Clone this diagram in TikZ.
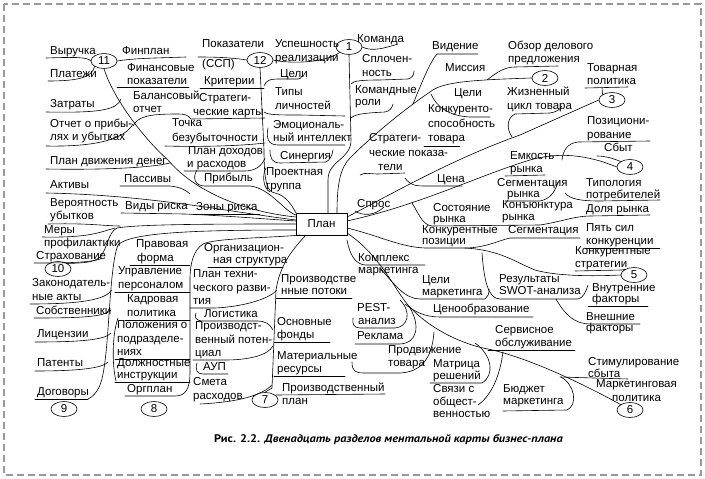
\documentclass[tikz,border=0pt]{standalone}
\usepackage{fontspec}
\setmainfont{Liberation Sans}
\newfontfamily\capfont{PT Sans}
\usetikzlibrary{shapes.geometric}
\newcommand\mylbl[4]{\node[lbl] (#1) at (#2,#3) {#4};}
\begin{document}
\begin{tikzpicture}[x=1pt,y=-1pt,
  lbl/.style={anchor=base west,inner sep=0pt,font=\fontsize{11.5}{13}\selectfont},
  ln/.style={line width=0.6pt,line cap=round},
  num/.style={ellipse,draw,line width=0.6pt,minimum width=26pt,minimum height=15pt,inner sep=0pt,font=\fontsize{11.5}{13}\selectfont},
  planbox/.style={draw,line width=0.8pt,minimum width=51pt,minimum height=22pt,inner sep=0pt,font=\fontsize{11.5}{13}\selectfont}]
\useasboundingbox (0,0) rectangle (705,479);
\draw[black!40,line width=1.2pt,dash pattern=on 7pt off 4pt] (4,4) rectangle (701,475);
\node[planbox] (p) at (321.5,224) {План};
% ellipses
\node[num] (e1) at (349,47) {1};
\node[num] (e2) at (545,78) {2};
\node[num] (e3) at (612,100) {3};
\node[num] (e4) at (630,167) {4};
\node[num] (e5) at (634,275) {5};
\node[num] (e6) at (630,410) {6};
\node[num] (e7) at (265,400) {7};
\node[num] (e8) at (154,409) {8};
\node[num] (e9) at (64,409) {9};
\node[num] (e10) at (58,269) {10};
\node[num] (e11) at (104,61) {11};
\node[num] (e12) at (260,60) {12};
% cluster 11
\mylbl{a11}{50}{54}{Выручка}
\mylbl{b11}{122}{54}{Финплан}
\mylbl{c11}{50}{77}{Платежи}
\mylbl{d11a}{127}{71}{Финансовые}
\mylbl{d11b}{127}{84}{показатели}
\mylbl{f11a}{133}{99}{Балансовый}
\mylbl{f11b}{133}{112}{отчет}
\mylbl{g11}{50}{107}{Затраты}
\mylbl{h11a}{50}{127}{Отчет о прибы-}
\mylbl{h11b}{50}{140}{лях и убытках}
\mylbl{i11a}{172}{126}{Точка}
\mylbl{i11b}{172}{141}{безубыточности}
\mylbl{j11}{50}{164}{План движения денег}
\mylbl{k11a}{188}{154}{План доходов}
\mylbl{k11b}{187}{167}{и расходов}
\mylbl{l11}{204}{181}{Прибыль}
\mylbl{m11}{124}{182}{Пассивы}
\mylbl{n11}{50}{188}{Активы}
% cluster 10
\mylbl{a10a}{50}{206}{Вероятность}
\mylbl{a10b}{50}{219}{убытков}
\mylbl{b10}{125}{209}{Виды риска}
\mylbl{c10}{196}{210}{Зоны риска}
\mylbl{d10a}{44}{233}{Меры}
\mylbl{d10b}{44}{246}{профилактики}
\mylbl{f10}{36}{259}{Страхование}
\mylbl{g10a}{32}{286}{Законодатель-}
\mylbl{g10b}{32}{300}{ные акты}
% cluster 9
\mylbl{a9}{36}{314}{Собственники}
\mylbl{b9}{37}{337}{Лицензии}
\mylbl{c9}{37}{366}{Патенты}
\mylbl{d9}{37}{395}{Договоры}
% cluster 8
\mylbl{a8a}{136}{247}{Правовая}
\mylbl{a8b}{137}{261}{форма}
\mylbl{b8a}{118}{274}{Управление}
\mylbl{b8b}{118}{288}{персоналом}
\mylbl{c8a}{127}{302}{Кадровая}
\mylbl{c8b}{127}{316}{политика}
\mylbl{d8a}{117}{328}{Положения о}
\mylbl{d8b}{117}{342}{подразделе-}
\mylbl{d8c}{117}{355}{ниях}
\mylbl{f8a}{117}{366}{Должностные}
\mylbl{f8b}{117}{378}{инструкции}
\mylbl{g8}{127}{392}{Оргплан}
\mylbl{h8a}{204}{251}{Организацион-}
\mylbl{h8b}{213}{263}{ная структура}
\mylbl{i8a}{193}{277}{План техни-}
\mylbl{i8b}{193}{291}{ческого разви-}
\mylbl{i8c}{193}{304}{тия}
% cluster 7
\mylbl{a7a}{281}{282}{Производстве}
\mylbl{a7b}{281}{294}{нные потоки}
\mylbl{b7}{204}{317}{Логистика}
\mylbl{c7a}{195}{329}{Производст-}
\mylbl{c7b}{195}{343}{венный потен-}
\mylbl{c7c}{195}{356}{циал}
\mylbl{d7}{203}{370}{АУП}
\mylbl{f7a}{193}{385}{Смета}
\mylbl{f7b}{193}{399}{расходов}
\mylbl{g7a}{277}{325}{Основные}
\mylbl{g7b}{277}{338}{фонды}
\mylbl{h7a}{277}{359}{Материальные}
\mylbl{h7b}{277}{372}{ресурсы}
\mylbl{i7a}{282}{391}{Производственный}
\mylbl{i7b}{282}{404}{план}
% cluster 12
\mylbl{a12}{202}{47}{Показатели}
\mylbl{b12}{202}{67}{(ССП)}
\mylbl{c12}{204}{84}{Критерии}
\mylbl{d12a}{199}{101}{Стратеги-}
\mylbl{d12b}{193}{115}{ческие карты}
\mylbl{f12a}{275}{47}{Успешность}
\mylbl{f12b}{275}{61}{реализации}
\mylbl{g12}{280}{77}{Цели}
\mylbl{h12a}{275}{95}{Типы}
\mylbl{h12b}{275}{109}{личностей}
\mylbl{i12a}{273}{128}{Эмоциональ-}
\mylbl{i12b}{273}{141}{ный интеллект}
\mylbl{j12}{280}{159}{Синергия}
\mylbl{k12a}{266}{175}{Проектная}
\mylbl{k12b}{266}{189}{группа}
% cluster 1
\mylbl{a1}{357}{42}{Команда}
\mylbl{b1a}{362}{62}{Сплочен-}
\mylbl{b1b}{362}{76}{ность}
\mylbl{c1a}{355}{93}{Командные}
\mylbl{c1b}{355}{105}{роли}
% cluster 2
\mylbl{a2}{432}{49}{Видение}
\mylbl{b2}{445}{71}{Миссия}
\mylbl{c2}{454}{96}{Цели}
\mylbl{d2a}{428}{112}{Конкуренто-}
\mylbl{d2b}{428}{127}{способность}
\mylbl{d2c}{428}{141}{товара}
\mylbl{f2a}{369}{141}{Стратеги-}
\mylbl{f2b}{369}{156}{ческие показа-}
\mylbl{f2c}{378}{170}{тели}
\mylbl{g2a}{508}{49}{Обзор делового}
\mylbl{g2b}{508}{62}{предложения}
\mylbl{h2a}{507}{95}{Жизненный}
\mylbl{h2b}{507}{109}{цикл товара}
% cluster 3
\mylbl{a3a}{587}{71}{Товарная}
\mylbl{a3b}{587}{84}{политика}
\mylbl{b3a}{587}{124}{Позициони-}
\mylbl{b3b}{587}{138}{рование}
\mylbl{c3a}{510}{159}{Емкость}
\mylbl{c3b}{510}{172}{рынка}
% cluster 4
\mylbl{a4}{604}{151}{Сбыт}
\mylbl{b4a}{497}{186}{Сегментация}
\mylbl{b4b}{507}{197}{рынка}
\mylbl{c4a}{502}{208}{Конъюнктура}
\mylbl{c4b}{502}{220}{рынка}
\mylbl{d4a}{586}{186}{Типология}
\mylbl{d4b}{586}{198}{потребителей}
\mylbl{f4}{586}{212}{Доля рынка}
\mylbl{g4}{437}{182}{Цена}
\mylbl{h4a}{433}{211}{Состояние}
\mylbl{h4b}{433}{222}{рынка}
\mylbl{i4}{357}{207}{Спрос}
% cluster 5
\mylbl{a5}{508}{233}{Сегментация}
\mylbl{b5a}{586}{231}{Пять сил}
\mylbl{b5b}{586}{244}{конкуренции}
\mylbl{c5a}{575}{254}{Конкурентные}
\mylbl{c5b}{575}{267}{стратегии}
\mylbl{d5a}{499}{282}{Результаты}
\mylbl{d5b}{499}{294}{SWOT-анализа}
\mylbl{f5a}{422}{233}{Конкурентные}
\mylbl{f5b}{422}{244}{позиции}
\mylbl{g5a}{592}{291}{Внутренние}
\mylbl{g5b}{592}{302}{факторы}
% cluster 6
\mylbl{a6a}{358}{261}{Комплекс}
\mylbl{a6b}{358}{273}{маркетинга}
\mylbl{b6a}{422}{283}{Цели}
\mylbl{b6b}{422}{295}{маркетинга}
\mylbl{c6a}{357}{311}{PEST-}
\mylbl{c6b}{358}{324}{анализ}
\mylbl{d6}{433}{312}{Ценообразование}
\mylbl{f6}{357}{339}{Реклама}
\mylbl{g6a}{388}{353}{Продвижение}
\mylbl{g6b}{388}{366}{товара}
\mylbl{h6a}{495}{333}{Сервисное}
\mylbl{h6b}{495}{346}{обслуживание}
\mylbl{i6a}{433}{367}{Матрица}
\mylbl{i6b}{433}{379}{решений}
\mylbl{j6a}{433}{392}{Связи с}
\mylbl{j6b}{433}{405}{общест-}
\mylbl{j6c}{433}{417}{венностью}
\mylbl{k6a}{503}{392}{Бюджет}
\mylbl{k6b}{503}{404}{маркетинга}
\mylbl{l6a}{586}{320}{Внешние}
\mylbl{l6b}{586}{331}{факторы}
\mylbl{m6a}{588}{365}{Стимулирование}
\mylbl{m6b}{588}{377}{сбыта}
\mylbl{n6a}{596}{387}{Маркетинговая}
\mylbl{n6b}{612}{401}{политика}
% caption
\node[anchor=base,inner sep=0pt,font=\capfont\fontsize{11}{13}\selectfont] (cap) at (388.5,442) {\scalebox{1.12}[1]{\textbf{Рис. 2.2.} \textbf{\textit{Двенадцать разделов ментальной карты бизнес-плана}}}};
% ---------- connectors ----------
% B11
\draw[ln] (e11.south) .. controls (112,95) and (140,135) .. (168,160) .. controls (195,192) and (245,212) .. (296,217);
\draw[ln] (46,58) .. controls (75,57) and (88,57) .. (e11.west);
\draw[ln] (e11.east) .. controls (135,58) and (160,58) .. (186,57);
\draw[ln] (48,81) .. controls (80,81) and (92,77) .. (e11.south west);
\draw[ln] (117,87) -- (189,87);
\draw[ln] (46,112) .. controls (100,113) and (117,110) .. (121,99);
\draw[ln] (46,146) .. controls (100,147) and (125,138) .. (133,124);
\draw[ln] (133,126) .. controls (138,116) and (150,114) .. (178,114) .. controls (185,114) and (188,115) .. (191,119) -- (265,118);
\draw[ln] (165,146) .. controls (200,147) and (240,146) .. (265,143);
\draw[ln] (46,169) .. controls (100,170) and (150,168) .. (170,163);
\draw[ln] (184,171) -- (245,171) .. controls (255,171) and (262,166) .. (265,158);
\draw[ln] (197,170) .. controls (192,178) and (195,186) .. (205,186) -- (250,186) .. controls (270,188) and (285,212) .. (296,215);
\draw[ln] (120,186) -- (170,186) .. controls (180,187) and (186,190) .. (190,194);
\draw[ln] (46,193) .. controls (150,195) and (230,212) .. (296,220);
% B12
\draw[ln] (e12.south) -- (264,150) .. controls (264,185) and (268,192) .. (275,193) .. controls (285,195) and (292,205) .. (296,213);
\draw[ln] (198,57) .. controls (220,57) and (235,58) .. (e12.west);
\draw[ln] (200,88) -- (264,88);
\draw[ln] (e12.east) .. controls (290,64) and (325,63) .. (e1.south west);
\draw[ln] (264,86) .. controls (266,80) and (270,79) .. (280,79) -- (298,79) .. controls (300,79) and (301,78) .. (302,76);
\draw[ln] (264,112) .. controls (268,115) and (278,115) .. (300,115) -- (345,116);
\draw[ln] (268,128) .. controls (266,138) and (268,145) .. (278,145) -- (345,145);
\draw[ln] (270,150) .. controls (270,158) and (272,163) .. (280,163) -- (326,162) .. controls (330,160) and (332,156) .. (333,150);
\draw[ln] (266,168) .. controls (262,175) and (263,188) .. (270,192);
% B1
\draw[ln] (e1.south) -- (351,140) .. controls (351,160) and (328,160) .. (328,180) -- (328,213);
\draw[ln] (e1.east) .. controls (372,52) and (385,48) .. (398,44);
\draw[ln] (351,84) .. controls (353,81) and (360,80) .. (380,80) -- (408,79) .. controls (412,78) and (414,75) .. (414,71);
\draw[ln] (351,118) .. controls (355,114) and (365,113) .. (385,112) .. controls (390,111) and (392,108) .. (393,104);
% B2
\draw[ln] (337,213) .. controls (337,185) and (340,168) .. (350,158) .. controls (380,128) and (415,102) .. (430,92) .. controls (442,82) and (470,80) .. (e2.west);
\draw[ln] (413,104) .. controls (422,82) and (430,62) .. (437,54) -- (478,54);
\draw[ln] (487,80) .. controls (497,72) and (505,67) .. (515,67) -- (558,66);
\draw[ln] (431,94) .. controls (437,108) and (450,116) .. (470,117) -- (490,117);
\draw[ln] (424,146) -- (460,146);
\draw[ln] (360,175) .. controls (365,172) and (370,174) .. (378,174) -- (405,173);
% B3
\draw[ln] (347,217) .. controls (390,195) and (450,160) .. (520,135) -- (e3.west);
\draw[ln] (585,88) -- (628,87);
\draw[ln] (e3.north west) -- (602,88);
\draw[ln] (562,160) .. controls (563,150) and (568,143) .. (578,142) -- (650,141);
\draw[ln] (512,137) .. controls (506,128) and (507,118) .. (515,114) -- (550,113) .. controls (556,112) and (560,110) .. (562,106);
\draw[ln] (505,176) -- (545,175);
% B4
\draw[ln] (347,221) .. controls (420,205) and (480,175) .. (530,160) .. controls (565,150) and (595,158) .. (e4.west);
\draw[ln] (597,156) .. controls (605,156) and (612,158) .. (e4.north west);
\draw[ln] (405,178) .. controls (410,185) and (415,186) .. (425,186) -- (462,186);
\draw[ln] (505,201) -- (540,201) .. controls (550,199) and (555,192) .. (558,182);
\draw[ln] (565,193) .. controls (570,199) and (580,201) .. (600,201) -- (660,200);
\draw[ln] (412,203) .. controls (418,212) and (422,225) .. (432,226) -- (540,225) .. controls (560,222) and (575,216) .. (590,216) -- (650,215);
\draw[ln] (355,211) .. controls (362,216) and (375,216) .. (384,207);
% B5
\draw[ln] (347,228) .. controls (380,236) and (400,247) .. (425,248) -- (465,248) .. controls (500,250) and (515,262) .. (535,270) .. controls (560,277) and (600,276) .. (e5.west);
\draw[ln] (465,248) .. controls (485,248) and (500,240) .. (510,238) -- (580,238);
\draw[ln] (585,248) -- (660,248);
\draw[ln] (575,271) -- (622,270) .. controls (626,269) .. (e5.north west);
\draw[ln] (482,253) .. controls (484,280) and (488,299) .. (500,299) -- (578,299) .. controls (583,298) and (586,292) .. (588,285);
\draw[ln] (588,306) -- (648,306);
\draw[ln] (556,299) .. controls (565,315) and (575,324) .. (590,324) -- (640,324);
% B6
\draw[ln] (347,233) .. controls (380,255) and (395,290) .. (408,305) .. controls (430,330) and (465,345) .. (488,349) .. controls (530,358) and (585,385) .. (e6.north west);
\draw[ln] (347,240) .. controls (350,255) and (355,264) .. (365,265) -- (425,265);
\draw[ln] (380,268) .. controls (395,285) and (405,299) .. (420,299) -- (485,299) .. controls (488,297) and (489,294) .. (489,289);
\draw[ln] (400,300) .. controls (412,312) and (408,327) .. (395,328) -- (360,328) .. controls (354,328) and (352,324) .. (353,318);
\draw[ln] (405,304) .. controls (415,312) and (425,317) .. (440,317) -- (533,317);
\draw[ln] (410,308) .. controls (420,325) and (418,343) .. (400,344) -- (355,344);
\draw[ln] (352,362) .. controls (352,372) and (356,373) .. (365,373) -- (400,373) .. controls (420,372) and (432,360) .. (434,332);
\draw[ln] (475,343) .. controls (492,355) and (495,375) .. (482,383) -- (430,383);
\draw[ln] (503,352) .. controls (500,375) and (492,395) .. (478,405);
\draw[ln] (488,350) -- (575,350);
\draw[ln] (561,377) .. controls (575,385) and (578,405) .. (567,410) -- (503,411);
\draw[ln] (560,377) -- (628,379);
% B10
\draw[ln] (296,224) .. controls (220,224) and (140,224) .. (117,228) .. controls (108,232) and (107,250) .. (100,257) .. controls (95,262) and (85,263) .. (e10.north east);
\draw[ln] (48,224) .. controls (90,223) and (105,226) .. (120,226);
\draw[ln] (121,213) -- (185,214) .. controls (230,216) and (265,219) .. (296,221);
\draw[ln] (193,214) -- (260,214);
\draw[ln] (42,237) .. controls (90,238) and (100,232) .. (115,228);
\draw[ln] (34,263) .. controls (60,263) and (95,263) .. (102,258);
% B9
\draw[ln] (296,230) .. controls (200,230) and (130,232) .. (118,245) .. controls (108,270) and (110,360) .. (100,385) .. controls (97,392) and (93,397) .. (88,399);
\draw[ln] (30,304) .. controls (80,304) and (105,300) .. (112,290);
\draw[ln] (34,318) .. controls (80,318) and (105,317) .. (111,310);
\draw[ln] (35,342) .. controls (80,342) and (105,340) .. (111,333);
\draw[ln] (35,371) .. controls (80,371) and (103,368) .. (108,362);
\draw[ln] (35,399) -- (88,399);
% B8
\draw[ln] (300,235) .. controls (270,238) and (215,238) .. (203,244) .. controls (194,250) and (190,262) .. (190,280) -- (190,372) .. controls (190,390) and (185,396) .. (175,396) -- (125,396);
\draw[ln] (130,265) -- (190,265);
\draw[ln] (115,292) -- (190,292);
\draw[ln] (125,320) -- (190,320);
\draw[ln] (115,359) -- (190,359);
\draw[ln] (115,382) -- (190,382);
\draw[ln] (118,318) .. controls (112,335) and (112,365) .. (116,381);
% B7
\draw[ln] (306,235) .. controls (292,250) and (280,265) .. (276,290) -- (272,388) -- (e7.north);
\draw[ln] (208,267) -- (283,267);
\draw[ln] (190,308) -- (215,308) .. controls (240,307) and (268,300) .. (277,290);
\draw[ln] (196,313) .. controls (194,318) and (196,321) .. (204,321) -- (258,321) .. controls (265,321) and (270,324) .. (273,330);
\draw[ln] (193,360) -- (225,360) .. controls (250,360) and (268,355) .. (273,346);
\draw[ln] (197,363) .. controls (195,370) and (197,374) .. (203,374) -- (228,374);
\draw[ln] (200,404) .. controls (240,402) and (262,395) .. (272,385);
\draw[ln] (276,298) -- (352,298);
\draw[ln] (274,342) -- (330,342);
\draw[ln] (274,376) -- (345,376);
\draw[ln] (276,395) -- (385,394);
\end{tikzpicture}
\end{document}
